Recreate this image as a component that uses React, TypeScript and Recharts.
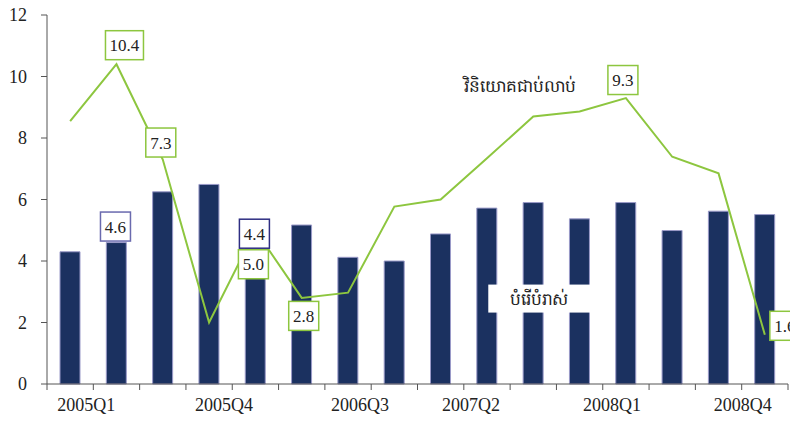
import React from 'react';
import { ComposedChart, Bar, Line, XAxis, YAxis, LabelList } from 'recharts';

const quarters = [
  '2005Q1', '2005Q2', '2005Q3', '2005Q4',
  '2006Q1', '2006Q2', '2006Q3', '2006Q4',
  '2007Q1', '2007Q2', '2007Q3', '2007Q4',
  '2008Q1', '2008Q2', '2008Q3', '2008Q4',
];

// បំរើបំរាស់ (bars)
const consumption = [4.3, 4.6, 6.25, 6.49, 4.4, 5.17, 4.12, 4.0, 4.88, 5.72, 5.9, 5.37, 5.9, 4.99, 5.62, 5.51];
// វិនិយោគជាប់លាប់ (line)
const investment = [8.55, 10.4, 7.3, 2.0, 5.0, 2.8, 2.97, 5.77, 6.0, 7.34, 8.7, 8.86, 9.3, 7.39, 6.85, 1.6];

const yTicks = [0, 2, 4, 6, 8, 10, 12];
const xTicks = [0, 1, 2, 3, 4, 5, 6, 7, 8, 9, 10, 11, 12, 13, 14, 15, 16];

const consumptionName = 'បំរើបំរាស់';
const investmentName = 'វិនិយោគជាប់លាប់';

const data = quarters.map((q, i) => ({
  x: i + 0.5,
  name: q,
  consumption: consumption[i],
  investment: investment[i],
}));

const W = 790;
const H = 428;
const LEFT = 47;
const RIGHT = 2;
const BAND = (W - LEFT - RIGHT) / quarters.length;

const NAVY = '#1b3160';
const GREEN = '#8dc63f';
const FONT = '"Liberation Serif", "Times New Roman", serif';

// Excel spreads the category labels a little unevenly; shift from band centre
const quarterShift: Record<number, number> = { 0: 16, 3: 15, 6: 12, 9: -16, 12: -14, 15: -22 };

// label boxes: offset of box centre from the point
const lineLabelStyle: Record<number, { dx: number; dy: number }> = {
  1: { dx: 8, dy: -19 },
  2: { dx: -2, dy: -17 },
  4: { dx: -2, dy: 34 },
  5: { dx: 2, dy: 18 },
  12: { dx: -3, dy: -18 },
  15: { dx: 20, dy: -9 },
};
const barLabelStyle: Record<number, { dx: number; dy: number; stroke: string }> = {
  1: { dx: -1, dy: -16, stroke: '#6a6aae' },
  4: { dx: -1, dy: -15, stroke: '#2e2e82' },
};

const Box = ({ cx, cy, text, stroke }: { cx: number; cy: number; text: string; stroke: string }) => {
  const w = text.length > 3 ? 38 : 30;
  const h = 29;
  return (
    <g>
      <rect x={cx - w / 2} y={cy - h / 2} width={w} height={h} fill="#fff" stroke={stroke} strokeWidth={1.5} />
      <text x={cx} y={cy + 6} textAnchor="middle" fontSize={17} fill="#222" fontFamily={FONT}>
        {text}
      </text>
    </g>
  );
};

const InvestmentLabel = (props: any) => {
  const { x, y, value, index } = props;
  const s = lineLabelStyle[index];
  return (
    <g>
      {index === 10 && (
        <text x={x - 13} y={y - 24} textAnchor="middle" fontSize={17} fill="#222" fontFamily={FONT}>
          {investmentName}
        </text>
      )}
      {s && <Box cx={x + s.dx} cy={y + s.dy} text={Number(value).toFixed(1)} stroke={GREEN} />}
    </g>
  );
};

const ConsumptionLabel = (props: any) => {
  const { x, y, value, index } = props;
  const s = barLabelStyle[index];
  return (
    <g>
      {index === 10 && (
        <g>
          <rect x={x + 6 - 51} y={y + 96 - 14} width={102} height={28} fill="#fff" />
          <text x={x + 6} y={y + 96 + 6} textAnchor="middle" fontSize={17} fill="#222" fontFamily={FONT}>
            {consumptionName}
          </text>
        </g>
      )}
      {s && <Box cx={x + s.dx} cy={y + s.dy} text={Number(value).toFixed(1)} stroke={s.stroke} />}
    </g>
  );
};

const QuarterTick = (props: any) => {
  const { x, y, payload } = props;
  const t = payload.value;
  if (quarterShift[t] === undefined) return null;
  return (
    <text x={x + BAND / 2 + quarterShift[t]} y={y + 19} textAnchor="middle" fontSize={18} fill="#222" fontFamily={FONT}>
      {quarters[t]}
    </text>
  );
};

const ValueTick = (props: any) => {
  const { x, y, payload } = props;
  return (
    <text x={x} y={y + 6} textAnchor="end" fontSize={18} fill="#222" fontFamily={FONT}>
      {payload.value}
    </text>
  );
};

export default function App() {
  return (
    <div style={{ position: 'absolute', left: 0, top: 0, background: '#fff', fontFamily: FONT }}>
      <ComposedChart
        width={W}
        height={H}
        data={data}
        margin={{ top: 15, right: RIGHT, bottom: 0, left: 0 }}
      >
        <XAxis
          type="number"
          dataKey="x"
          domain={[0, 16]}
          ticks={xTicks}
          interval={0}
          height={44}
          tick={<QuarterTick />}
          tickSize={6}
          axisLine={{ stroke: '#555' }}
          tickLine={{ stroke: '#555' }}
        />
        <YAxis
          domain={[0, 12]}
          ticks={yTicks}
          width={LEFT}
          tickSize={6}
          tickMargin={14}
          interval={0}
          axisLine={{ stroke: '#555' }}
          tickLine={{ stroke: '#555' }}
          tick={<ValueTick />}
        />
        <Bar dataKey="consumption" barSize={20} fill={NAVY} stroke="#9a9ac8" strokeWidth={1} isAnimationActive={false} />
        <Line
          dataKey="investment"
          stroke={GREEN}
          strokeWidth={2}
          dot={false}
          activeDot={false}
          isAnimationActive={false}
        >
          <LabelList dataKey="investment" content={<InvestmentLabel />} />
        </Line>
        <Line dataKey="consumption" stroke="none" dot={false} activeDot={false} isAnimationActive={false}>
          <LabelList dataKey="consumption" content={<ConsumptionLabel />} />
        </Line>
      </ComposedChart>
    </div>
  );
}
